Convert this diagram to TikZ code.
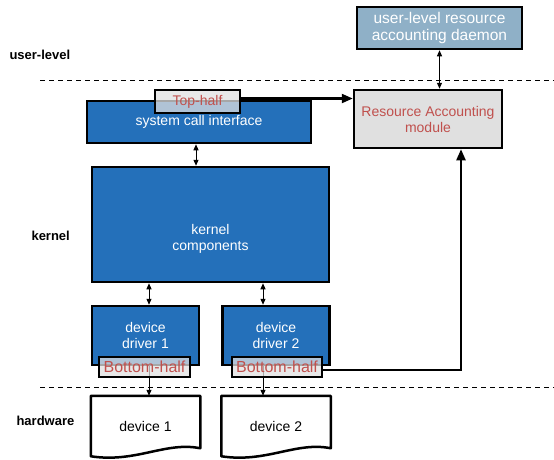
\documentclass[tikz,border=0pt]{standalone}
\usepackage{fontspec}
\setmainfont{Liberation Sans}
\usetikzlibrary{arrows.meta,calc}

\definecolor{kblue}{HTML}{2470BA}
\definecolor{dblue}{HTML}{8FB0C7}
\definecolor{mgray}{HTML}{E0E0E0}
\definecolor{hred}{HTML}{C0504D}

\begin{document}
\begin{tikzpicture}[x=1pt,y=-1pt,
  box/.style={draw, line width=2.5pt, inner sep=0pt, align=center, font=\fontsize{14}{16}\selectfont},
  kbox/.style={box, fill=kblue, text=white},
  halfbox/.style={box, fill=mgray, fill opacity=0.75, text opacity=1, text=hred},
  level/.style={anchor=west, font=\fontsize{13}{15}\selectfont\bfseries},
  sep/.style={dash pattern=on 5pt off 4pt, line width=0.9pt},
  biarrow/.style={{Triangle[length=6pt,width=5pt]}-{Triangle[length=6pt,width=5pt]}, line width=1pt},
  feed/.style={-{Triangle[length=11pt,width=9pt]}, line width=2.2pt}]
  \useasboundingbox (0,0) rectangle (554,459);

  % layers
  \node[level] (lu) at (6,55) {user-level};
  \node[level] (lk) at (28,236) {kernel};
  \node[level] (lh) at (13,421) {hardware};
  \draw[sep] (40,80) -- (554,80);
  \draw[sep] (40,387) -- (554,387);

  % user space
  \node[box, fill=dblue, text=white, font=\fontsize{15.5}{17}\selectfont, minimum width=165, minimum height=42] (daemon) at (439.5,28) {user-level resource\\accounting daemon};

  % kernel
  \node[box, fill=mgray, text=hred, minimum width=148, minimum height=58] (ram) at (428,119) {Resource Accounting\\module};
  \node[kbox, minimum width=224, minimum height=42] (sci) at (199,122) {system call interface};
  \node[kbox, minimum width=237, minimum height=115,
    label={[white, font=\fontsize{14}{16}\selectfont, align=center, yshift=-14pt]center:kernel\\components}] (kern) at (210.5,224.5) {};
  \node[kbox, minimum width=107, minimum height=59] (drv1) at (145.5,335.5) {device\\driver 1};
  \node[kbox, minimum width=107, minimum height=59] (drv2) at (276,335.5) {device\\driver 2};

  % hardware
  \node[box, draw=none, minimum width=107, minimum height=58] (dev1) at (145.5,426) {device 1};
  \node[box, draw=none, minimum width=107, minimum height=58] (dev2) at (276,426) {device 2};
  \foreach \d in {dev1,dev2}
    \draw[line width=2.5pt, line join=round] (\d.north west) -- (\d.north east) -- ($(\d.south east)+(0,-8)$)
      .. controls ($(\d.south east)+(-35,-15)$) and ($(\d.south west)+(45,7)$) .. (\d.south west) -- cycle;

  \draw[biarrow] (daemon.south) -- (daemon.south |- ram.north);
  \draw[biarrow] ([xshift=-3pt]sci.south) -- ([xshift=-3pt]sci.south |- kern.north);
  \draw[biarrow] ([xshift=3.5pt]drv1.north) -- ([xshift=3.5pt]drv1.north |- kern.south);
  \draw[biarrow] ([xshift=-13pt]drv2.north) -- ([xshift=-13pt]drv2.north |- kern.south);
  \draw[-{Triangle[length=6pt,width=5pt]}, line width=1pt] ([xshift=3.5pt]drv1.south) -- ([xshift=3.5pt]drv1.south |- dev1.north);
  \draw[-{Triangle[length=6pt,width=5pt]}, line width=1pt] ([xshift=-13pt]drv2.south) -- ([xshift=-13pt]drv2.south |- dev2.north);

  % hook halves
  \node[halfbox, minimum width=85, minimum height=23] (top) at (197.5,101.5) {Top-half};
  \node[halfbox, font=\fontsize{16}{18}\selectfont, minimum width=91, minimum height=20] (bot1) at (144.5,367) {Bottom-half};
  \node[halfbox, font=\fontsize{16}{18}\selectfont, minimum width=90, minimum height=20] (bot2) at (277,367) {Bottom-half};

  \draw[feed] ([yshift=3pt]top.east) -- ([yshift=3pt]top.east -| ram.west);
  \draw[feed] ([yshift=-3pt]bot2.east) -| ([xshift=33pt]ram.south);
\end{tikzpicture}
\end{document}
